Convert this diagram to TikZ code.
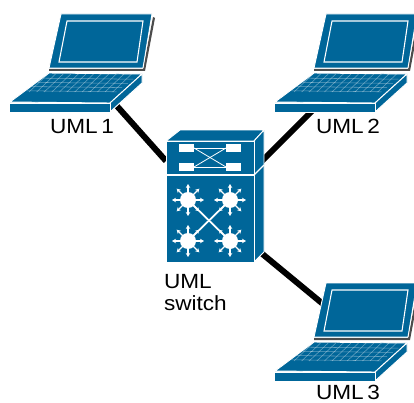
\documentclass[tikz,border=0pt]{standalone}
\usepackage{fontspec}
\setmainfont[FakeStretch=1.1,WordSpace=0.6]{Liberation Sans}
\usetikzlibrary{calc,arrows.meta}
\definecolor{devblue}{HTML}{006699}
\tikzset{
	every node/.style={draw=none,rectangle,outer sep=0pt,inner sep=0pt},
	devbody/.style={fill=devblue,draw=white,line width=0.7pt,line join=round},
	devline/.style={draw=white,line width=0.8pt},
	link/.style={line width=4.5pt,black},
	portbox/.style={fill=white,minimum width=11.2pt,minimum height=6pt},
	devlabel/.style={font=\fontsize{15.4}{16.5}\selectfont,align=left,anchor=north west},
	hubspoke/.style={white,line width=.9pt,arrows={-Stealth[length=3pt,width=3.4pt]}},
	laptop/.pic={
		% lid, origin at its top left corner
		\fill[black!70] (-12,55) -- (82,55) -- (92,3) -- (94,4) -- (84,57) -- (-12,57) -- cycle;
		\path[devbody] (0,0) -- (91,0) -- (82,54) -- (-12,54) -- cycle;
		\draw[devline] (6,7) -- (82,7) -- (76,48) -- (-2,48) -- cycle;
		% keyboard
		\path[devbody] (-12,59) -- (81,60) -- (49,89) -- (-51,88) -- cycle;
		\path[devbody] (49,98) -- (81,69) -- (81,60) -- (49,89) -- cycle;
		\path[devbody] (-52,89) rectangle (49,98);
		\foreach \i in {1,...,4}
			\draw[white,opacity=.4,line width=.4pt] ({-12-\i*5.6},{60+\i*4.2}) -- ({78-\i*5.6},{61+\i*4.2});
		\foreach \i in {0,...,11}
			\draw[white,opacity=.4,line width=.4pt] ({-13+\i*7.6},60) -- ({-32+\i*7.6},78);
	}
}
\begin{document}
\begin{tikzpicture}[x=0.75pt,y=-0.75pt]
	\useasboundingbox (0,0) rectangle (414,403);
	% ends of the links
	\coordinate (uml1) at (116,105);
	\coordinate (uml2) at (313,110);
	\coordinate (uml3) at (323,304);
	\coordinate (sw1) at (166,161);
	\coordinate (sw2) at (262,161);
	\coordinate (sw3) at (260,252);

	\draw[link] (uml1) -- (sw1);
	\draw[link] (uml2) -- (sw2);
	\draw[link] (uml3) -- (sw3);

	\pic at (61,14) {laptop};
	\pic at (326,14) {laptop};
	\pic at (326,283) {laptop};

	% switch
	\path[devbody] (166,141) -- (180,130) -- (264,130) -- (254,141) -- cycle;
	\path[devbody] (254,141) -- (264,130) -- (264,252) -- (254,262) -- cycle;
	\path[devbody] (166,141) rectangle (254,174);
	\path[devbody] (166,175) rectangle (254,262);
	\draw[devline] (254,175) -- (264,165);

	\node[portbox] (p1) at (186.5,148) {};
	\node[portbox] (p2) at (233.5,148) {};
	\node[portbox] (p3) at (186.5,167) {};
	\node[portbox] (p4) at (233.5,167) {};
	\draw[white,line width=.6pt] (p1.east) -- (p4.west);
	\draw[white,line width=.6pt] (p3.east) -- (p2.west);
	\draw[white,line width=.6pt] (p1.east) -- (p2.west);
	\draw[white,line width=.6pt] (p3.east) -- (p4.west);

	\foreach \name/\x/\y in {h1/188/200,h2/230/200,h3/188/241,h4/230/241} {
		\node[circle,fill=white,minimum size=12pt] (\name) at (\x,\y) {};
		\foreach \a in {0,45,...,315}
			\draw[hubspoke] (\name.center) -- ++(\a:16);
	}
	\draw[white,line width=1.3pt] (h1) -- (h4);
	\draw[white,line width=1.3pt] (h2) -- (h3);

	\node[devlabel] (l1) at (50,119) {UML 1};
	\node[devlabel] (l2) at (316,119) {UML 2};
	\node[devlabel] (l3) at (316,385.5) {UML 3};
	\node[devlabel] (l4) at (164,274) {UML\\switch};
\end{tikzpicture}
\end{document}
